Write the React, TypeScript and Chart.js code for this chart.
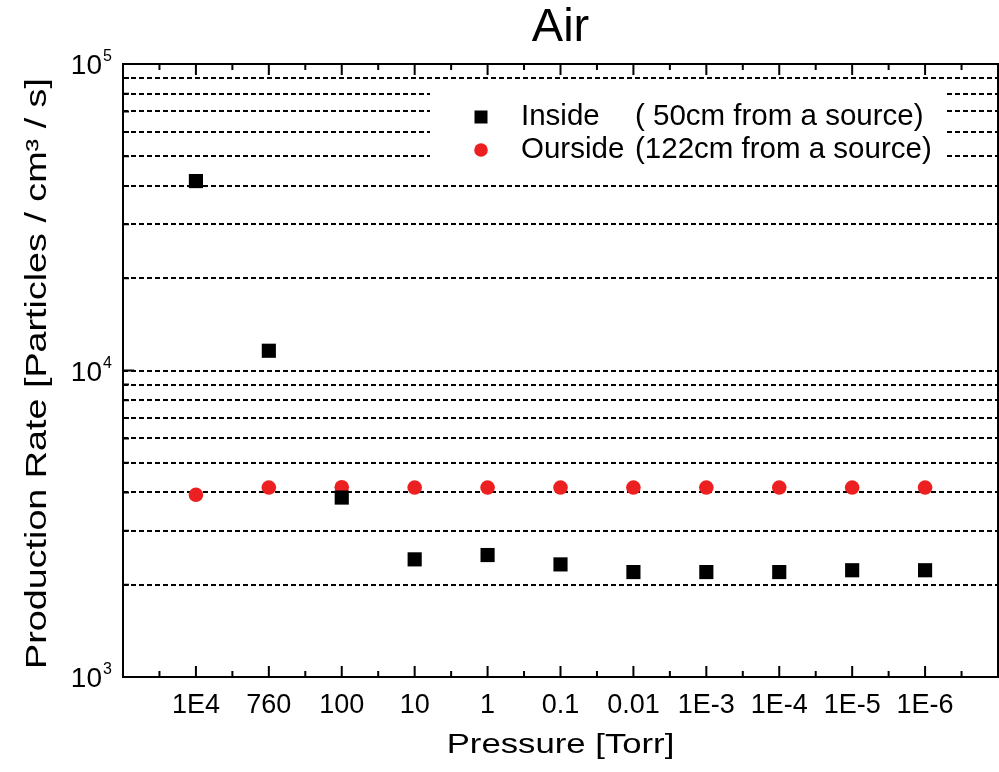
import React, { useEffect, useRef } from 'react';
import { Chart, registerables } from 'chart.js';

Chart.register(...registerables);

const FONT = '"Liberation Sans", Arial, Helvetica, sans-serif';

// Categories (x axis, pressure in Torr)
const pressureLabels = ['1E4', '760', '100', '10', '1', '0.1', '0.01', '1E-3', '1E-4', '1E-5', '1E-6'];

// Series values (particles / cm^3 / s)
const insideValues = [41500, 11600, 3850, 2420, 2500, 2330, 2200, 2200, 2200, 2230, 2230];
const outsideValues = [3930, 4150, 4160, 4150, 4150, 4150, 4150, 4150, 4150, 4150, 4150];

const insideLabel = 'Inside ( 50cm from a source)';
const outsideLabel = 'Ourside (122cm from a source)';

// Y axis decades and their exponent labels
const yDecades = [1000, 10000, 100000];
const yExponents = ['3', '4', '5'];
// Y grid / minor tick values
const yMinorValues = [
  2000, 3000, 4000, 5000, 6000, 7000, 8000, 9000,
  20000, 30000, 40000, 50000, 60000, 70000, 80000, 90000,
];

const titleText = 'Air';
const xTitle = 'Pressure [Torr]';
const yTitle = 'Production Rate [Particles / cm³ / s]';

const RED = 'rgb(236, 32, 32)';

function drawStretchedText(ctx: any, text: string, cx: number, cy: number, size: number, stretch: number, rotate: number) {
  ctx.save();
  ctx.translate(cx, cy);
  ctx.rotate(rotate);
  ctx.scale(stretch, 1);
  ctx.font = `${size}px ${FONT}`;
  ctx.fillStyle = '#000';
  ctx.textAlign = 'center';
  ctx.textBaseline = 'middle';
  ctx.fillText(text, 0, 0);
  ctx.restore();
}

const decorPlugin = {
  id: 'decor',
  beforeDatasetsDraw(chart: any) {
    const { ctx, chartArea } = chart;
    const L = chartArea.left;
    const T = chartArea.top;
    ctx.save();
    // legend box (white background hides grid lines)
    ctx.fillStyle = '#ffffff';
    ctx.fillRect(L + 307, T + 21, 515, 88);
    const rows = [T + 53, T + 86];
    chart.data.datasets.forEach((ds: any, i: number) => {
      const y = rows[i];
      const mx = L + 358;
      ctx.fillStyle = ds.backgroundColor;
      if (ds.pointStyle === 'rect') {
        ctx.fillRect(mx - 6.5, y - 6.5, 13, 13);
      } else {
        ctx.beginPath();
        ctx.arc(mx, y, 6.8, 0, Math.PI * 2);
        ctx.fill();
      }
      ctx.fillStyle = '#000';
      ctx.font = `29.5px ${FONT}`;
      ctx.textBaseline = 'middle';
      ctx.textAlign = 'left';
      const label: string = ds.label;
      const k = label.indexOf('(');
      ctx.fillText(label.slice(0, k).trim(), L + 398, y);
      ctx.fillText(label.slice(k), L + 512, y);
    });
    ctx.restore();
  },
  afterDraw(chart: any) {
    const { ctx, chartArea } = chart;
    const { left, right, top, bottom } = chartArea;
    const xs = chart.scales.x;
    const ys = chart.scales.y;
    ctx.save();
    ctx.strokeStyle = '#000';
    ctx.lineWidth = 2;
    ctx.setLineDash([]);
    ctx.strokeRect(left, top, right - left, bottom - top);
    ctx.beginPath();
    // x ticks (bottom & top)
    for (let i = 0; i <= pressureLabels.length; i++) {
      const minor = xs.getPixelForValue(i + 0.5);
      if (minor < right - 1) {
        ctx.moveTo(minor, bottom); ctx.lineTo(minor, bottom - 6);
        ctx.moveTo(minor, top); ctx.lineTo(minor, top + 6);
      }
      if (i >= 1 && i <= pressureLabels.length) {
        const major = xs.getPixelForValue(i);
        ctx.moveTo(major, bottom); ctx.lineTo(major, bottom - 11);
        ctx.moveTo(major, top); ctx.lineTo(major, top + 11);
      }
    }
    // y ticks (left)
    yDecades.forEach((v) => {
      const py = ys.getPixelForValue(v);
      ctx.moveTo(left, py); ctx.lineTo(left + 11, py);
    });
    yMinorValues.forEach((v) => {
      const py = ys.getPixelForValue(v);
      ctx.moveTo(left, py); ctx.lineTo(left + 6, py);
    });
    ctx.stroke();

    // y tick labels 10^n
    ctx.fillStyle = '#000';
    yDecades.forEach((v, i) => {
      const py = ys.getPixelForValue(v);
      ctx.font = `28px ${FONT}`;
      ctx.textAlign = 'right';
      ctx.textBaseline = 'alphabetic';
      ctx.fillText('10', left - 21, py + 10);
      ctx.font = `16px ${FONT}`;
      ctx.textAlign = 'left';
      ctx.fillText(yExponents[i], left - 20, py - 3);
    });
    ctx.restore();

    // axis titles
    drawStretchedText(ctx, xTitle, (left + right) / 2, bottom + 68, 28, 1.24, 0);
    drawStretchedText(ctx, yTitle, left - 85, (top + bottom) / 2 + 3, 29, 1.3, -Math.PI / 2);
  },
};

export default function App() {
  const canvasRef = useRef<HTMLCanvasElement | null>(null);

  useEffect(() => {
    document.body.style.margin = '0';
    const canvas = canvasRef.current;
    if (!canvas) return;

    const insideData = insideValues.map((v, i) => ({ x: i + 1, y: v }));
    const outsideData = outsideValues.map((v, i) => ({ x: i + 1, y: v }));
    const xTickValues = pressureLabels.map((_, i) => i + 1);
    const yGridValues = [...yDecades, ...yMinorValues].sort((a, b) => a - b);

    const chart = new Chart(canvas, {
      type: 'scatter',
      data: {
        datasets: [
          {
            label: insideLabel,
            data: insideData,
            pointStyle: 'rect',
            pointRadius: 10,
            pointHoverRadius: 10,
            backgroundColor: '#000000',
            borderColor: '#000000',
            borderWidth: 0,
            showLine: false,
          },
          {
            label: outsideLabel,
            data: outsideData,
            pointStyle: 'circle',
            pointRadius: 7.3,
            pointHoverRadius: 7.3,
            backgroundColor: RED,
            borderColor: RED,
            borderWidth: 0,
            showLine: false,
          },
        ],
      },
      options: {
        responsive: false,
        animation: false,
        layout: { autoPadding: false, padding: { left: 0, right: 1, top: 0, bottom: 0 } },
        plugins: {
          legend: { display: false },
          tooltip: { enabled: false },
          title: {
            display: true,
            text: titleText,
            color: '#000',
            fullSize: false,
            font: { family: FONT, size: 47, weight: 'normal' },
            padding: { top: 0, bottom: 7.6 },
          },
        },
        scales: {
          x: {
            type: 'linear',
            position: 'bottom',
            min: 0,
            max: 12,
            afterBuildTicks: (s: any) => {
              s.ticks = xTickValues.map((v) => ({ value: v }));
            },
            afterFit: (s: any) => {
              s.height = 95;
              s.paddingLeft = 0;
              s.paddingRight = 0;
            },
            ticks: {
              autoSkip: false,
              maxRotation: 0,
              padding: 12,
              color: '#000',
              font: { family: FONT, size: 27 },
              callback: (v: any) => pressureLabels[Number(v) - 1] ?? '',
            },
            grid: { display: false, drawTicks: false },
            border: { display: false },
            title: { display: false, text: xTitle },
          },
          y: {
            type: 'logarithmic',
            position: 'left',
            min: 1000,
            max: 100000,
            afterBuildTicks: (s: any) => {
              s.ticks = yGridValues.map((v) => ({ value: v }));
            },
            afterFit: (s: any) => {
              s.width = 123;
              s.paddingTop = 0;
              s.paddingBottom = 0;
            },
            ticks: { display: false },
            grid: {
              drawTicks: false,
              lineWidth: 2,
              color: (c: any) =>
                c.tick && (c.tick.value === 1000 || c.tick.value === 100000)
                  ? 'rgba(0,0,0,0)'
                  : '#000',
            },
            border: { display: false, dash: [5, 3] },
            title: { display: false, text: yTitle },
          },
        },
      },
      plugins: [decorPlugin],
    } as any);

    return () => {
      chart.destroy();
    };
  }, []);

  return (
    <div style={{ position: 'absolute', left: 0, top: 0, width: 999, height: 772, background: '#fff' }}>
      <canvas ref={canvasRef} width={999} height={772} />
    </div>
  );
}
